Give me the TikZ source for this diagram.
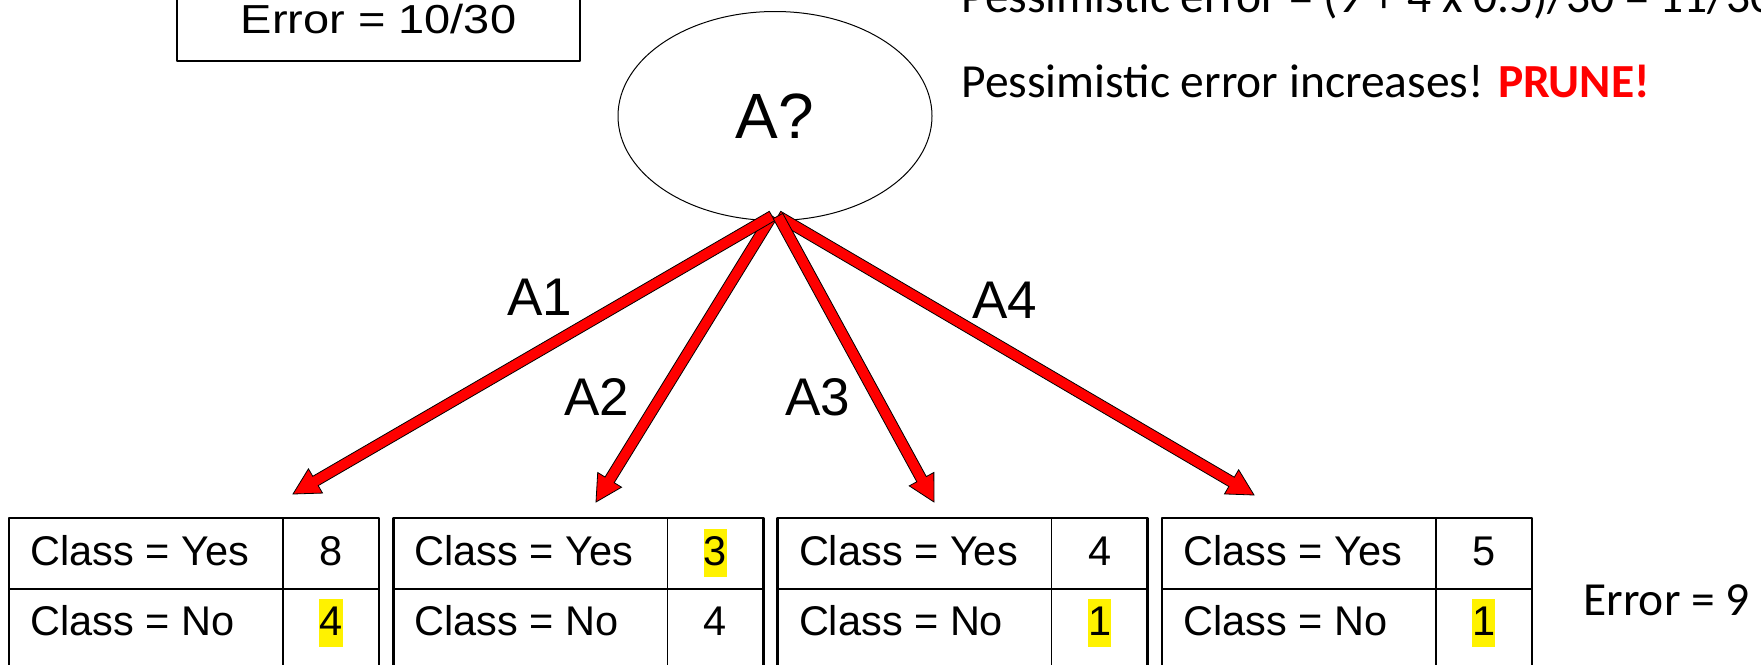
\documentclass[tikz,border=0pt]{standalone}
\usepackage{fontspec}
\setmainfont{Liberation Sans}
\newfontfamily\calibrifont{Carlito}
\newfontfamily\widefont[FakeStretch=1.16]{Liberation Sans}
\usetikzlibrary{calc,shapes.geometric}

% arrow geometry (one pixel of the slide = 0.5pt)
\newcommand\shafthw{2.7pt}
\newcommand\headlen{13pt}
\newcommand\headhw{7pt}

\tikzset{
  redarrow/.style={fill=red, draw=black, line width=0.4pt, line join=miter},
  cellfont/.style={font=\fontsize{20.75}{24}\selectfont},
  cell/.style={cellfont, anchor=base west, inner sep=0pt},
  numcell/.style={cellfont, anchor=base, inner sep=0pt, text height=18pt, text depth=6pt},
  branch/.style={font=\fontsize{26.5}{30}\selectfont, inner sep=0pt},
  note/.style={font=\calibrifont\fontsize{23.75}{28}\selectfont, anchor=base west, inner sep=0pt},
  outer/.style={line width=1.3pt},
  inner/.style={line width=0.6pt}
}

\begin{document}
\begin{tikzpicture}[x=0.5pt, y=-0.5pt, line join=round]
  \useasboundingbox (0,0) rectangle (1761,664);
  \clip (0,0) rectangle (1761,664);

  % Error before the split
  \draw[outer] (177,-40) rectangle (580,61);
  \node[font=\widefont\fontsize{20.25}{24}\selectfont, anchor=base, inner sep=0pt] (errroot) at (378.5,33) {Error = 10/30};

  % Test node
  \node[draw, ellipse, line width=0.5pt, minimum width=157pt, minimum height=104.5pt, inner sep=0pt,
        font=\fontsize{32}{36}\selectfont] (quest) at (775,116) {A?};

  % Notes
  \node[note] (pess) at (961,12) {Pessimistic error = (9 + 4 x 0.5)/30 = 11/30};
  \node[note] (prune) at (961,97) {Pessimistic error increases! \textcolor{red}{\bfseries PRUNE!}};
  \node[note] (errsplit) at (1583,615) {Error = 9};

  % Branch ends
  \coordinate (forkL) at ([shift={(-3,-5)}]quest.south);
  \coordinate (forkR) at ([shift={(3,-5)}]quest.south);
  \coordinate (tip1) at (293,494);
  \coordinate (tip2) at (596,502);
  \coordinate (tip3) at (934,502);
  \coordinate (tip4) at (1254,495);

  % Block arrows
  \foreach \from/\tip in {forkL/tip2, forkR/tip4, forkL/tip1, forkR/tip3}
    \filldraw[redarrow] ($(\from)!\shafthw!90:(\tip)$)
      -- ($(\tip)!\headlen!(\from)!\shafthw!-90:(\from)$)
      -- ($(\tip)!\headlen!(\from)!\headhw!-90:(\from)$)
      -- (\tip)
      -- ($(\tip)!\headlen!(\from)!\headhw!90:(\from)$)
      -- ($(\tip)!\headlen!(\from)!\shafthw!90:(\from)$)
      -- ($(\from)!\shafthw!-90:(\tip)$) -- cycle;

  % Branch labels
  \node[branch] (a1) at (540,297) {A1};
  \node[branch] (a2) at (597,397) {A2};
  \node[branch] (a3) at (818,397) {A3};
  \node[branch] (a4) at (1005,300) {A4};

  % Leaf tables
  \foreach \i/\yes/\no/\yf/\nf in {0/8/4/none/yellow, 1/3/4/yellow/none, 2/4/1/none/yellow, 3/5/1/none/yellow} {
    \pgfmathsetmacro\tx{9+384.3*\i}
    \draw[outer] (\tx,518) rectangle (\tx+370,670);
    \draw[inner] (\tx,589) -- (\tx+370,589);
    \draw[inner] (\tx+274,518) -- (\tx+274,670);
    \node[cell] (yes\i) at (\tx+21,565) {Class = Yes};
    \node[cell] (no\i) at (\tx+21,635) {Class = No};
    \node[numcell, fill=\yf] (ny\i) at (\tx+322,565) {\yes};
    \node[numcell, fill=\nf] (nn\i) at (\tx+322,635) {\no};
  }
\end{tikzpicture}
\end{document}
